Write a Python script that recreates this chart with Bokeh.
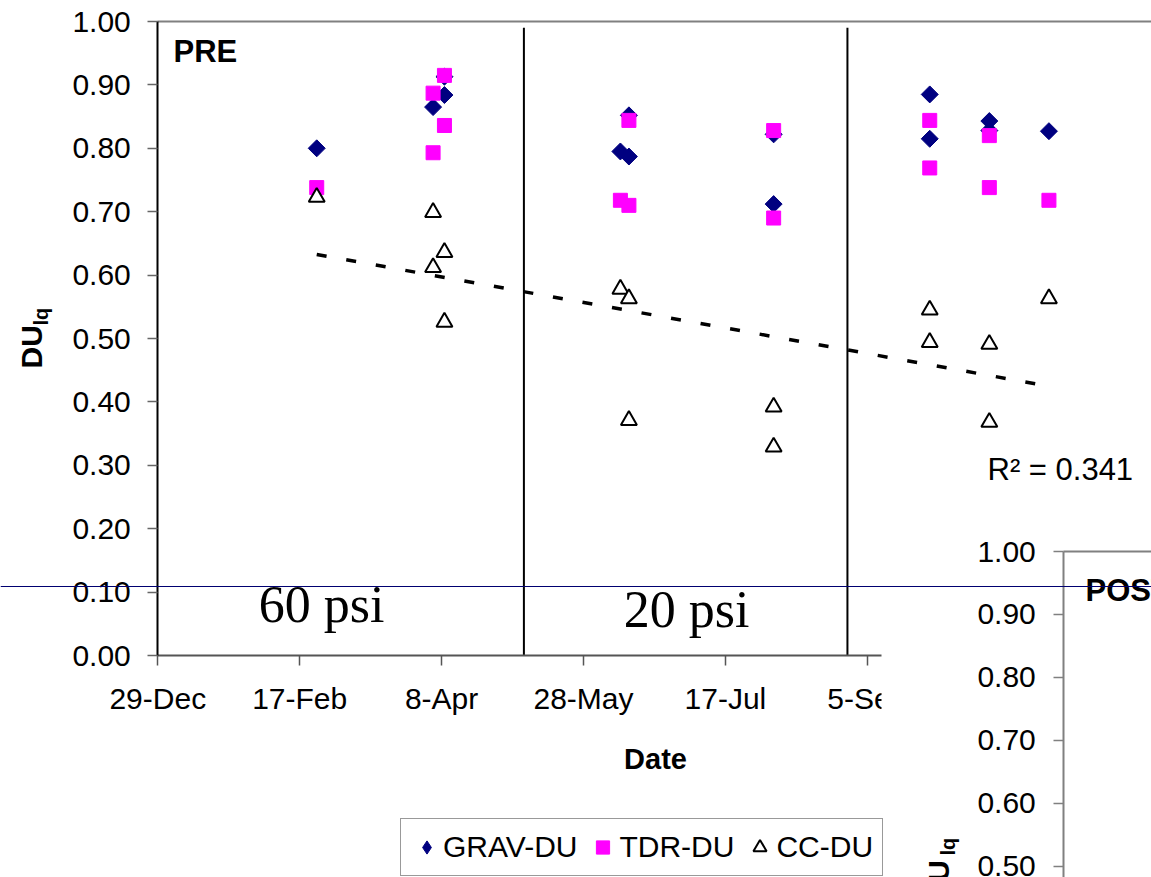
import numpy as np
import pandas as pd
from bokeh.plotting import figure
from bokeh.models import (Range1d, LinearAxis, FixedTicker, NumeralTickFormatter,
                          CustomJSTickFormatter, ColumnDataSource, Legend, LegendItem,
                          BoxAnnotation, Span)
from bokeh.core.properties import value
from bokeh.embed import file_html
from bokeh.resources import INLINE

# ---------------- data ----------------
grav_dates = ["2005-02-23", "2005-04-05", "2005-04-09", "2005-04-09", "2005-06-10",
              "2005-06-13", "2005-06-13", "2005-08-03", "2005-08-03", "2005-09-27",
              "2005-09-27", "2005-10-18", "2005-10-18", "2005-11-08"]
grav_du = [0.800, 0.865, 0.884, 0.913, 0.795, 0.852, 0.787, 0.822, 0.712, 0.885,
           0.815, 0.843, 0.828, 0.827]

tdr_dates = ["2005-02-23", "2005-04-05", "2005-04-05", "2005-04-09", "2005-04-09",
             "2005-06-10", "2005-06-13", "2005-06-13", "2005-08-03", "2005-08-03",
             "2005-09-27", "2005-09-27", "2005-10-18", "2005-10-18", "2005-11-08"]
tdr_du = [0.738, 0.887, 0.793, 0.915, 0.836, 0.718, 0.844, 0.710, 0.828, 0.690,
          0.844, 0.769, 0.820, 0.738, 0.718]

cc_dates = ["2005-02-23", "2005-04-05", "2005-04-05", "2005-04-09", "2005-04-09",
            "2005-06-10", "2005-06-13", "2005-06-13", "2005-08-03", "2005-08-03",
            "2005-09-27", "2005-09-27", "2005-10-18", "2005-10-18", "2005-11-08"]
cc_du = [0.723, 0.699, 0.612, 0.636, 0.526, 0.578, 0.563, 0.371, 0.392, 0.329,
         0.545, 0.494, 0.491, 0.368, 0.563]

period_break_dates = ["2005-05-07", "2005-08-29"]
period_break_top = [0.99, 0.99]
period_labels = ["60 psi", "20 psi"]

x_tick_dates = ["2004-12-29", "2005-02-17", "2005-04-08", "2005-05-28",
                "2005-07-17", "2005-09-05", "2005-10-25"]
x_tick_labels = ["29-Dec", "17-Feb", "8-Apr", "28-May", "17-Jul", "5-Sep", "25-Oct"]
y_ticks = [0.0, 0.1, 0.2, 0.3, 0.4, 0.5, 0.6, 0.7, 0.8, 0.9, 1.0]
post_y_ticks = [0.5, 0.6, 0.7, 0.8, 0.9, 1.0]
r2_text = "R² = 0.341"

# ---------------- geometry (pixels of the 1151x877 window) ----------------
W, H = 1151, 877
OX, OY = 0, 0
X0, PXD = 157.3, 2.838          # x of 29-Dec, px per day
Y0, PXV = 655.0, 634.0          # y of DU 0 (PRE chart), px per unit
PY1, PPV = 551.0, 629.0         # y of DU 1 (POST chart), px per unit
DAY = 86400000.0
EPOCH = pd.Timestamp("1970-01-01")
base = pd.Timestamp(x_tick_dates[0])


def ms(ts):
    return (pd.Timestamp(ts) - EPOCH).total_seconds() * 1000.0


def xd(X):
    return ms(base) + (X - X0) / PXD * DAY


def yv(Y):
    return (Y0 - Y) / PXV


def yp(Y):
    return 1.0 - (Y - PY1) / PPV


FONT_NAME = "Liberation Sans"
FONT = value(FONT_NAME)

p = figure(width=W, height=H, output_backend="svg", toolbar_location=None, tools="",
           x_range=Range1d(xd(OX), xd(OX + W)), y_range=Range1d(yv(OY + H), yv(OY)),
           x_axis_type=None, y_axis_type=None, title=None, min_border=0,
           outline_line_color=None, background_fill_color="white",
           border_fill_color="white")
p.extra_y_ranges = {"post": Range1d(yp(OY + H), yp(OY))}

# ---------------- axes (PRE) ----------------
yax = LinearAxis(fixed_location=ms(base), bounds=(0, 1),
                 ticker=FixedTicker(ticks=y_ticks),
                 formatter=NumeralTickFormatter(format="0.00"),
                 axis_line_color="black", axis_line_width=2,
                 major_tick_out=10, major_tick_in=0,
                 major_tick_line_color="#666666", major_tick_line_width=1.5,
                 minor_tick_out=0, minor_tick_in=0,
                 major_label_standoff=17, major_label_text_font=FONT_NAME,
                 major_label_text_font_size="30px", major_label_text_color="black")
p.add_layout(yax, "left")

tick_ms = [ms(d) for d in x_tick_dates]
xfmt = CustomJSTickFormatter(args=dict(t=tick_ms, l=x_tick_labels), code="""
for (let i = 0; i < t.length; i++) { if (Math.abs(t[i] - tick) < 1000) return l[i]; }
return "";
""")
xax = LinearAxis(fixed_location=0.0, bounds=(ms(base), xd(OX + W)),
                 ticker=FixedTicker(ticks=tick_ms), formatter=xfmt,
                 axis_line_color="#555555", axis_line_width=2,
                 major_tick_out=10, major_tick_in=0,
                 major_tick_line_color="#555555", major_tick_line_width=1.5,
                 minor_tick_out=0, minor_tick_in=0,
                 major_label_standoff=16, major_label_text_font=FONT_NAME,
                 major_label_text_font_size="30px", major_label_text_color="black")
p.add_layout(xax, "below")

top_border = LinearAxis(fixed_location=1.0, bounds=(ms(base), xd(OX + W)),
                        ticker=FixedTicker(ticks=[]), major_tick_out=0, major_tick_in=0,
                        minor_tick_out=0, minor_tick_in=0,
                        major_label_text_font_size="0px",
                        axis_line_color="#808080", axis_line_width=2)
p.add_layout(top_border, "above")

# ---------------- marks ----------------
grav_src = ColumnDataSource(dict(x=pd.to_datetime(grav_dates), y=grav_du))
tdr_src = ColumnDataSource(dict(x=pd.to_datetime(tdr_dates), y=tdr_du))
cc_src = ColumnDataSource(dict(x=pd.to_datetime(cc_dates), y=cc_du))

p.segment(x0=pd.to_datetime(period_break_dates), y0=[0, 0],
          x1=pd.to_datetime(period_break_dates), y1=period_break_top,
          line_color="black", line_width=2)

grav_leg = p.scatter("x", "y", source=grav_src, marker="diamond", size=12,
                     fill_color="#000080", line_color="#000080")
grav_r = p.scatter("x", "y", source=grav_src, marker="square", angle=np.pi / 4, size=12,
                   fill_color="#000080", line_color="#000080")
tdr_r = p.scatter("x", "y", source=tdr_src, marker="square", size=14,
                  fill_color="#FF00FF", line_color="#FF00FF")
cc_r = p.scatter("x", "y", source=cc_src, marker="triangle", size=16,
                 fill_color="white", line_color="black", line_width=2)

# linear trendline of CC-DU
cc_days = (pd.to_datetime(cc_dates) - base).days.values.astype(float)
slope, icpt = np.polyfit(cc_days, np.array(cc_du), 1)
tx = np.array([cc_days.min(), cc_days.max()])
p.line(x=[base + pd.Timedelta(days=float(d)) for d in tx], y=slope * tx + icpt,
       line_color="black", line_width=3.5, line_dash="10 20")

# texts of the PRE chart (y = vertical centre of capitals)
p.text(x=[xd(173)], y=[yv(51)], text=["PRE"], text_font=FONT, text_font_style="bold",
       text_font_size="31px", text_align="left", text_baseline="middle")
p.text(x=[xd(321), xd(686)], y=[yv(604), yv(608.5)], text=period_labels,
       text_font=value("Liberation Serif"), text_font_size="52px",
       text_align="center", text_baseline="middle")
p.text(x=[xd(987)], y=[yv(469)], text=[r2_text], text_font=FONT,
       text_font_size="31px", text_align="left", text_baseline="middle")
p.text(x=[xd(655)], y=[yv(758)], text=["Date"], text_font=FONT, text_font_style="bold",
       text_font_size="29px", text_align="center", text_baseline="middle")
p.text(x=[xd(30.5)], y=[yv(368)], text=["DU"], angle=np.pi / 2, text_font=FONT,
       text_font_style="bold", text_font_size="30px", text_align="left",
       text_baseline="middle")
p.text(x=[xd(40)], y=[yv(325)], text=["lq"], angle=np.pi / 2, text_font=FONT,
       text_font_style="bold", text_font_size="20px", text_align="left",
       text_baseline="middle")

# legend (kept inside the visible part, left of the overlapping POST chart)
legend = Legend(items=[LegendItem(label="GRAV-DU", renderers=[grav_leg]),
                       LegendItem(label="TDR-DU", renderers=[tdr_r]),
                       LegendItem(label="CC-DU", renderers=[cc_r])],
                orientation="horizontal", location=(400 - OX, H - (876 - OY)),
                label_text_font=FONT_NAME, label_text_font_size="30px",
                label_text_color="black",
                glyph_width=33, glyph_height=38, label_standoff=0, spacing=9,
                padding=9, margin=0, border_line_color="#333333",
                border_line_width=1.5, background_fill_color="white",
                background_fill_alpha=1.0)
p.add_layout(legend, "center")

# ---------------- overlapping POST chart ----------------
p.add_layout(BoxAnnotation(left=xd(881), right=xd(OX + W) + 50 * DAY,
                           bottom=yv(OY + H) - 1, top=yv(532),
                           fill_color="white", fill_alpha=1.0, line_alpha=0.0))

post_ax = LinearAxis(y_range_name="post", fixed_location=xd(1063.3), bounds=(0, 1),
                     ticker=FixedTicker(ticks=post_y_ticks),
                     formatter=NumeralTickFormatter(format="0.00"),
                     axis_line_color="#808080", axis_line_width=2,
                     major_tick_out=10, major_tick_in=0,
                     major_tick_line_color="#808080", major_tick_line_width=1.5,
                     minor_tick_out=0, minor_tick_in=0,
                     major_label_standoff=18, major_label_text_font=FONT_NAME,
                     major_label_text_font_size="30px", major_label_text_color="black",
                     level="overlay")
p.add_layout(post_ax, "left")
post_top = LinearAxis(y_range_name="post", fixed_location=1.0,
                      bounds=(xd(1063.3), xd(OX + W)),
                      ticker=FixedTicker(ticks=[]), major_tick_out=0, major_tick_in=0,
                      minor_tick_out=0, minor_tick_in=0, major_label_text_font_size="0px",
                      axis_line_color="#808080", axis_line_width=2, level="overlay")
p.add_layout(post_top, "above")

p.text(x=[xd(1085)], y=[yv(590)], text=["POST"], text_font=FONT, text_font_style="bold",
       text_font_size="31px", text_align="left", text_baseline="middle",
       level="overlay")
p.text(x=[xd(937.5)], y=[yv(903)], text=["DU"], angle=np.pi / 2, text_font=FONT,
       text_font_style="bold", text_font_size="30px", text_align="left",
       text_baseline="middle", level="overlay")
p.text(x=[xd(947)], y=[yv(855)], text=["lq"], angle=np.pi / 2, text_font=FONT,
       text_font_style="bold", text_font_size="20px", text_align="left",
       text_baseline="middle", level="overlay")

p.add_layout(Span(location=yv(586), dimension="width", line_color="#000070",
                  line_width=1, level="overlay"))

open("out.html", "w").write(file_html(p, INLINE))
